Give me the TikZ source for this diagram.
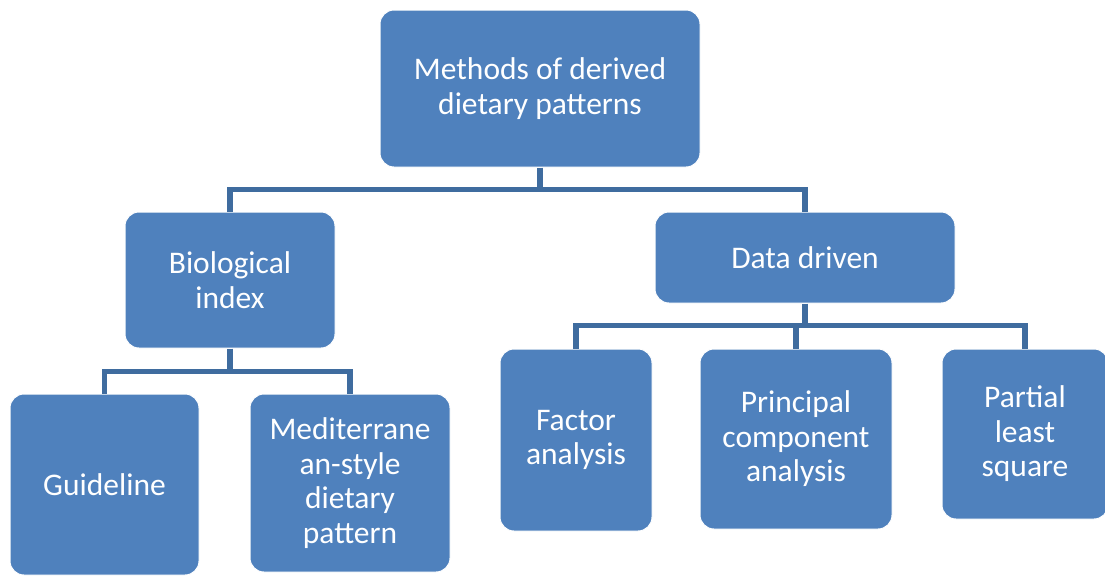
\documentclass[tikz,border=0pt]{standalone}
\usepackage{fontspec}
\setmainfont{Carlito}
\definecolor{boxblue}{HTML}{4F81BD}
\definecolor{linkblue}{HTML}{3F6C9F}
\begin{document}
\begin{tikzpicture}[x=1pt,y=-1pt,
  box/.style={fill=boxblue, draw=white, line width=1pt, rounded corners=14pt,
    text=white, align=center, inner sep=0pt,
    font=\fontsize{31.5}{34.5}\selectfont},
  conn/.style={draw=linkblue, line width=5.5pt}]
\useasboundingbox (0,0) rectangle (1105,576);
\fill[white] (0,0) rectangle (1105,576);
\node[box, minimum width=320pt, minimum height=157pt] (top) at (540,88.5) {Methods of derived\\dietary patterns};
\node[box, minimum width=210pt, minimum height=136pt] (bio) at (230,280) {Biological\\index};
\node[box, minimum width=300pt, minimum height=91pt] (dd) at (805,257.5) {Data driven};
\node[box, minimum width=189pt, minimum height=181pt] (guide) at (104.5,484.5) {Guideline};
\node[box, minimum width=200pt, minimum height=178pt] (med) at (350,483) {Mediterrane\\an-style\\dietary\\pattern};
\node[box, minimum width=152pt, minimum height=182pt] (fa) at (576,440) {Factor\\analysis};
\node[box, minimum width=192pt, minimum height=180pt] (pca) at (796,439) {Principal\\component\\analysis};
\node[box, minimum width=166pt, minimum height=170pt] (pls) at (1025,434) {Partial\\least\\square};
% top level
\draw[conn] (top.south) -- ++(0,23);
\draw[conn] (bio.north) -- ++(0,-22) -| (dd.north);
% left branch
\draw[conn] (bio.south) -- ++(0,24);
\draw[conn] (guide.north) -- ++(0,-22) -| (med.north);
% right branch
\draw[conn] (dd.south) -- ++(0,23);
\draw[conn] (fa.north) -- ++(0,-23) -| (pls.north);
\draw[conn] (pca.north) -- ++(0,-23);
\end{tikzpicture}
\end{document}
